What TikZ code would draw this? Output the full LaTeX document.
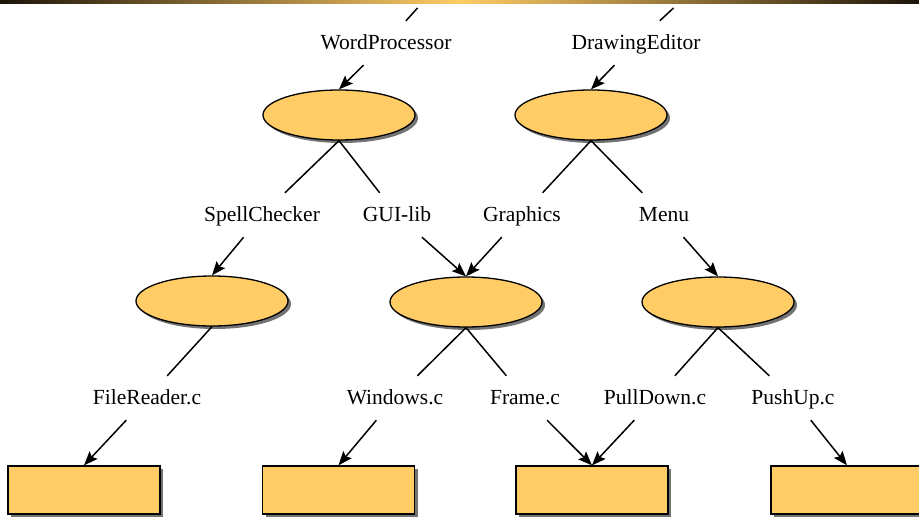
\documentclass[tikz,border=0pt]{standalone}
\usepackage{fontspec}
\setmainfont{Liberation Serif}
\usetikzlibrary{shapes.geometric,shadows,arrows.meta}
\definecolor{gold}{HTML}{FFCC66}
\definecolor{darkbar}{HTML}{1C1408}
\tikzset{
  x=1pt, y=-1pt,
  lbl/.style={draw=none, font=\fontsize{21.5}{25}\selectfont, minimum height=44pt,
              text height=1.4em, text depth=0pt, inner sep=2pt, anchor=center},
  pshadow/.style={drop shadow={shadow xshift=3pt, shadow yshift=-3pt,
               fill=black!55, opacity=1}},
  blob/.style={ellipse, draw=black, line width=1.3pt, fill=gold,
               minimum width=152pt, minimum height=50pt, inner sep=0pt, pshadow},
  filebox/.style={rectangle, draw=black, line width=1.3pt, fill=gold,
               minimum width=152pt, minimum height=48pt, inner sep=0pt, pshadow},
  edge/.style={draw, line width=1.5pt},
  arr/.style={draw, line width=1.5pt, -{Stealth[length=14pt,width=11pt,inset=2.5pt]}},
}
\begin{document}
\begin{tikzpicture}
\useasboundingbox (0,0) rectangle (919,518);
\begin{scope}
\clip (0,0) rectangle (919,518);
% header bar
\shade[left color=darkbar, right color=darkbar, middle color=gold] (0,0) rectangle (919,3.5);

% labels
\node[lbl] (wp)  at (386,43)  {WordProcessor};
\node[lbl] (de)  at (636,43)  {DrawingEditor};
\node[lbl] (sc)  at (262,215) {SpellChecker};
\node[lbl] (gl)  at (397,215) {GUI-lib};
\node[lbl] (gr)  at (522,215) {Graphics};
\node[lbl] (mn)  at (664,215) {Menu};
\node[lbl] (fr)  at (147,398) {FileReader.c};
\node[lbl] (wc)  at (395,398) {Windows.c};
\node[lbl] (fc)  at (525,398) {Frame.c};
\node[lbl] (pd)  at (655,398) {PullDown.c};
\node[lbl] (pu)  at (793,398) {PushUp.c};

% packages
\node[blob] (e1) at (339,115) {};
\node[blob] (e2) at (591,115) {};
\node[blob] (e3) at (212,301) {};
\node[blob] (e4) at (466,302) {};
\node[blob] (e5) at (718,302) {};

% files
\node[filebox] (r1) at (84,490)  {};
\node[filebox] (r2) at (338.5,490) {};
\node[filebox] (r3) at (592,490) {};
\node[filebox] (r4) at (847,490) {};

% incoming lines from above
\coordinate (in1) at (417.5,8);
\coordinate (in2) at (673.5,8);
\draw[edge] (in1) -- (wp);
\draw[edge] (in2) -- (de);

% labels to packages
\draw[arr] (wp) -- (e1.north);
\draw[arr] (de) -- (e2.north);
\draw[arr] (sc) -- (e3.north);
\draw[arr] (gl) -- (e4.north);
\draw[arr] (gr) -- (e4.north);
\draw[arr] (mn) -- (e5.north);

% packages to their contents
\draw[edge] (e1.south) -- (sc);
\draw[edge] (e1.south) -- (gl);
\draw[edge] (e2.south) -- (gr);
\draw[edge] (e2.south) -- (mn);
\draw[edge] (e3.south) -- (fr);
\draw[edge] (e4.south) -- (wc);
\draw[edge] (e4.south) -- (fc);
\draw[edge] (e5.south) -- (pd);
\draw[edge] (e5.south) -- (pu);

% contents to files
\draw[arr] (fr) -- (r1.north);
\draw[arr] (wc) -- (r2.north);
\draw[arr] (fc) -- (r3.north);
\draw[arr] (pd) -- (r3.north);
\draw[arr] (pu) -- (r4.north);
\end{scope}
\end{tikzpicture}
\end{document}
